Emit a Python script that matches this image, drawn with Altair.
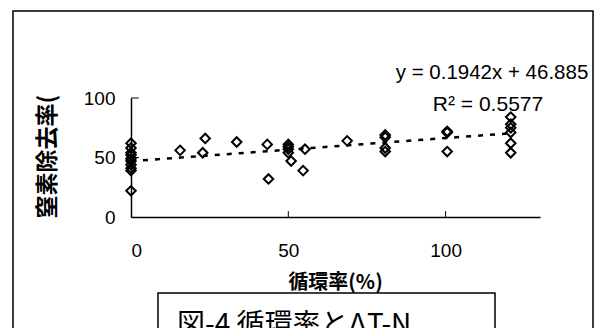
import altair as alt
import pandas as pd

# ---- data ----
x_vals = [0, 0, 0, 0, 0, 0, 0, 0, 0, 0,
          15.6, 22.8, 23.6, 33.6, 43.3, 43.7,
          50, 50, 50, 50, 50.9, 55.3, 54.7, 68.7,
          80.8, 80.8, 80.8, 80.8,
          100.5, 100.5, 100.5,
          120.7, 120.7, 120.7, 120.7, 120.7, 120.7]
y_vals = [62, 58, 54, 52, 49, 47, 44, 41, 39, 22,
          56, 54, 66, 63, 61, 32,
          61, 59, 57, 54, 47, 57, 39, 64,
          69, 67, 58, 55,
          72, 71, 55,
          84, 78, 75, 71, 62, 54]

trend_x = [0, 120.7]
trend_y = [46.885, 70.33]

x_ticks = [0, 50, 100]
y_ticks = [0, 50, 100]
x_inner_ticks = [50, 100]
y_inner_ticks = [50, 100]

equation_text = "y = 0.1942x + 46.885"
r2_text = "R² = 0.5577"
caption_text = "図-4 循環率とΔT-N"
x_title = "循環率(%)"
y_title = "窒素除去率("

pts = pd.DataFrame({"x": x_vals, "y": y_vals})
trend = pd.DataFrame({"x": trend_x, "y": trend_y})
xt = pd.DataFrame({"x": x_inner_ticks})
yt = pd.DataFrame({"y": y_inner_ticks})
one = pd.DataFrame({"d": [0]})

W, H = 409, 119
LAT = "Liberation Sans"
CJK = "Noto Sans CJK JP"

xscale = alt.Scale(domain=[0, 130], nice=False, zero=False)
yscale = alt.Scale(domain=[0, 100], nice=False, zero=False)

xenc = alt.X("x:Q", scale=xscale, axis=alt.Axis(
    values=x_ticks, ticks=False, grid=False, domainColor="black", domainWidth=1.5,
    labelFont=LAT, labelFontSize=19, labelColor="black", labelPadding=24,
    title=x_title, titleFont=CJK, titleFontSize=20, titleFontWeight="bold",
    titleColor="black", titleX=204, titleY=65, titleAlign="center",
    titleBaseline="middle", zindex=1))
yenc = alt.Y("y:Q", scale=yscale, axis=alt.Axis(
    values=y_ticks, ticks=False, grid=False, domainColor="black", domainWidth=1.5,
    labelFont=LAT, labelFontSize=19, labelColor="black", labelPadding=16,
    title=y_title, titleFont=CJK, titleFontSize=23, titleFontWeight="bold",
    titleColor="black", titleAngle=270, titleX=-84, titleY=120,
    titleAlign="left", titleBaseline="middle", zindex=1))

border = alt.Chart(one).mark_rect(fill="transparent", stroke="black", strokeWidth=1.5).encode(
    x=alt.value(-118), x2=alt.value(462), y=alt.value(-87), y2=alt.value(260))

points = alt.Chart(pts).mark_point(shape="diamond", filled=False, size=90,
                                   strokeWidth=2, color="black", opacity=1).encode(
    x=xenc, y=yenc)

line = alt.Chart(trend).mark_line(color="black", strokeWidth=2.5,
                                  strokeDash=[5, 7]).encode(
    x=alt.X("x:Q", scale=xscale), y=alt.Y("y:Q", scale=yscale))

xtick = alt.Chart(xt).mark_rule(color="black", strokeWidth=1).encode(
    x=alt.X("x:Q", scale=xscale), y=alt.datum(0), y2=alt.datum(5))
ytick = alt.Chart(yt).mark_rule(color="black", strokeWidth=1).encode(
    y=alt.Y("y:Q", scale=yscale), x=alt.datum(0), x2=alt.datum(2.5))

eq = alt.Chart(one).mark_text(text=equation_text, font=LAT, fontSize=20.5,
                              align="center", baseline="middle", color="black").encode(
    x=alt.value(361), y=alt.value(-25))
r2 = alt.Chart(one).mark_text(text=r2_text, font=LAT, fontSize=21,
                              align="center", baseline="middle", color="black").encode(
    x=alt.value(357), y=alt.value(7))

capbox = alt.Chart(one).mark_rect(fill="white", stroke="black", strokeWidth=1.5).encode(
    x=alt.value(27), x2=alt.value(364), y=alt.value(195), y2=alt.value(260))
cap = alt.Chart(one).mark_text(text=caption_text, font="Noto Sans CJK JP",
                               fontSize=28, fontWeight="normal", align="left",
                               baseline="alphabetic", color="black").encode(
    x=alt.value(46), y=alt.value(236))

chart = alt.layer(border, line, points, xtick, ytick, eq, r2, capbox, cap).properties(
    width=W, height=H,
    padding={"left": 123, "top": 90, "right": 58, "bottom": 111},
    autosize=alt.AutoSizeParams(type="none"),
    background="white",
).configure_view(stroke=None)

chart.save("out.html", embed_options={"renderer": "svg", "actions": False})
